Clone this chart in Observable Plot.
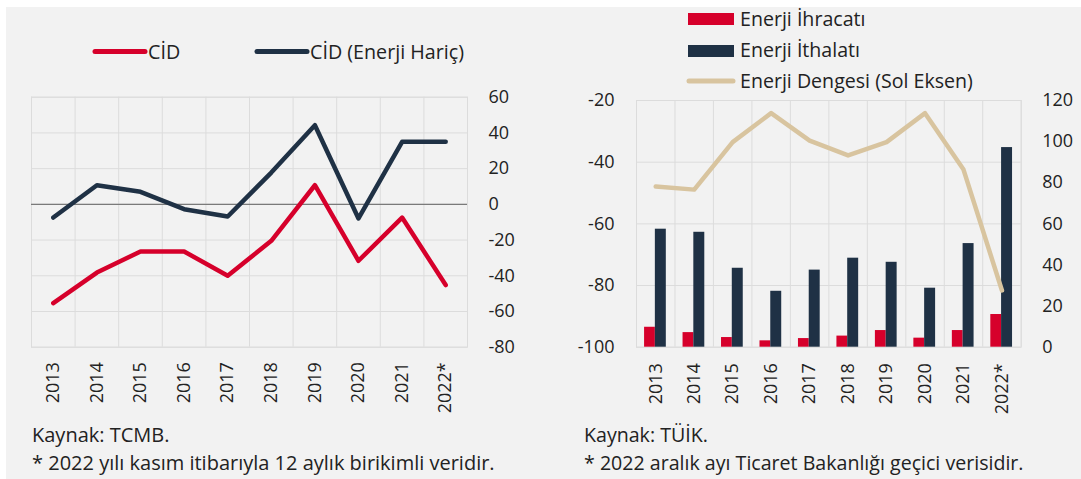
<!DOCTYPE html>
<html><head><meta charset="utf-8">
<script src="https://cdn.jsdelivr.net/npm/d3@7"></script>
<script src="https://cdn.jsdelivr.net/npm/@observablehq/plot@0.6"></script>
<style>
body{margin:0;background:#fff;width:1081px;height:479px;overflow:hidden;position:relative;font-family:"Open Sans",sans-serif;}
#bg{position:absolute;left:6px;top:7px;width:1075px;height:472px;background:#f2f2f2;}
.chart{position:absolute;top:0;}
#overlay{position:absolute;left:0;top:0;}
</style></head><body>
<div id="bg"></div>
<div id="left" class="chart" style="left:0px"></div>
<div id="right" class="chart" style="left:540px"></div>
<svg id="overlay" width="1081" height="479"></svg>
<script>
// ---- data ----
const years = ["2013","2014","2015","2016","2017","2018","2019","2020","2021","2022*"];
const cid = [-55.3,-38.2,-26.4,-26.4,-40.0,-20.4,10.7,-31.6,-7.4,-45.2];
const cidExEnergy = [-7.4,10.7,7.0,-2.7,-6.8,17.8,44.3,-7.9,35.0,35.0];
const energyExports = [9.7,7.1,4.7,3.1,4.2,5.4,8.1,4.4,8.1,15.9];
const energyImports = [57.4,55.9,38.4,27.2,37.5,43.3,41.3,28.7,50.4,97.1];
const energyBalance = [-47.9,-48.9,-33.5,-24.1,-33.0,-37.8,-33.5,-24.1,-42.4,-81.6];
const leftTicks = [-80,-60,-40,-20,0,20,40,60];
const balanceTicks = [-100,-80,-60,-40,-20];
const tradeTicks = [0,20,40,60,80,100,120];

const legendLeft = ["CİD","CİD (Enerji Hariç)"];
const legendRight = ["Enerji İhracatı","Enerji İthalatı","Enerji Dengesi (Sol Eksen)"];
const footLeft = ["Kaynak: TCMB.","* 2022 yılı kasım itibarıyla 12 aylık birikimli veridir."];
const footRight = ["Kaynak: TÜİK.","* 2022 aralık ayı Ticaret Bakanlığı geçici verisidir."];

// ---- styles ----
const red = "#d6002b", navy = "#1f3145", tan = "#d8c49f", grid = "#dcdcdc", ink = "#222";
const font = '"Open Sans", sans-serif';

const idx = d3.range(years.length);
const edges = d3.range(years.length + 1).map(i => i - 0.5);
const leftData = idx.map(i => ({i, cid: cid[i], ex: cidExEnergy[i]}));
const rightData = idx.map(i => ({i, exp: energyExports[i], imp: energyImports[i], bal: energyBalance[i]}));
// left-axis (balance, -100..-20) mapped onto right-axis (0..120)
const toR = v => (v + 100) * 1.5;
const fromR = r => r / 1.5 - 100;

const leftChart = Plot.plot({
  width: 540, height: 430,
  marginLeft: 31, marginRight: 73, marginTop: 96.7, marginBottom: 83.3,
  style: {background: "transparent", fontFamily: font, fontSize: "18px", color: ink},
  x: {type: "linear", domain: [-0.5, years.length - 0.5]},
  y: {domain: [-80, 60]},
  marks: [
    Plot.ruleY(leftTicks, {stroke: grid, strokeWidth: 1}),
    Plot.ruleX(edges, {stroke: grid, strokeWidth: 1}),
    Plot.frame({stroke: grid}),
    Plot.ruleY([0], {stroke: "#7a7a7a", strokeWidth: 1.2}),
    Plot.line(leftData, {x: "i", y: "ex", stroke: navy, strokeWidth: 4.5}),
    Plot.line(leftData, {x: "i", y: "cid", stroke: red, strokeWidth: 4.5}),
    Plot.axisY({anchor: "right", ticks: leftTicks, tickSize: 0, tickPadding: 21, tickFormat: d => String(d), label: null, fill: ink}),
    Plot.axisX({anchor: "bottom", ticks: idx, tickFormat: i => years[i], tickRotate: -90, tickSize: 0, tickPadding: 15, label: null, fill: ink})
  ]
});
document.getElementById("left").append(leftChart);

const rightChart = Plot.plot({
  width: 541, height: 430,
  marginLeft: 96, marginRight: 60.3, marginTop: 100, marginBottom: 83.3,
  style: {background: "transparent", fontFamily: font, fontSize: "18px", color: ink},
  x: {type: "linear", domain: [-0.5, years.length - 0.5]},
  y: {domain: [0, 120]},
  marks: [
    Plot.ruleY(balanceTicks.map(toR), {stroke: grid, strokeWidth: 1}),
    Plot.ruleX(edges, {stroke: grid, strokeWidth: 1}),
    Plot.frame({stroke: grid}),
    Plot.rectY(rightData, {x1: d => d.i - 0.29, x2: d => d.i - 0.01, y: "exp", fill: red}),
    Plot.rectY(rightData, {x1: d => d.i - 0.01, x2: d => d.i + 0.275, y: "imp", fill: navy}),
    Plot.line(rightData, {x: "i", y: d => toR(d.bal), stroke: tan, strokeWidth: 4.5}),
    Plot.axisY({anchor: "left", ticks: balanceTicks.map(toR), tickFormat: d => String(Math.round(fromR(d))), tickSize: 0, tickPadding: 22, label: null, fill: ink}),
    Plot.axisY({anchor: "right", ticks: tradeTicks, tickFormat: d => String(d), tickSize: 0, tickPadding: 21, label: null, fill: ink}),
    Plot.axisX({anchor: "bottom", ticks: idx, tickFormat: i => years[i], tickRotate: -90, tickSize: 0, tickPadding: 16, label: null, fill: ink})
  ]
});
document.getElementById("right").append(rightChart);

// ---- legends & notes ----
const ov = d3.select("#overlay").style("font-family", font).attr("fill", ink);
// left legend
const ll = [{c: red, x: 95, t: legendLeft[0]}, {c: navy, x: 257, t: legendLeft[1]}];
ll.forEach(d => {
  ov.append("line").attr("x1", d.x).attr("x2", d.x + 50).attr("y1", 51.5).attr("y2", 51.5)
    .attr("stroke", d.c).attr("stroke-width", 5).attr("stroke-linecap", "round");
  ov.append("text").attr("x", d.x + 53).attr("y", 58.5).attr("font-size", 19.7).text(d.t);
});
// right legend
ov.append("rect").attr("x", 688).attr("y", 13).attr("width", 46).attr("height", 12).attr("fill", red);
ov.append("text").attr("x", 740).attr("y", 26).attr("font-size", 19.6).text(legendRight[0]);
ov.append("rect").attr("x", 688).attr("y", 45).attr("width", 46).attr("height", 12).attr("fill", navy);
ov.append("text").attr("x", 740).attr("y", 56.5).attr("font-size", 19.6).text(legendRight[1]);
ov.append("line").attr("x1", 689).attr("x2", 733).attr("y1", 81).attr("y2", 81)
  .attr("stroke", tan).attr("stroke-width", 5).attr("stroke-linecap", "round");
ov.append("text").attr("x", 740).attr("y", 87.5).attr("font-size", 19.6).text(legendRight[2]);
// notes
footLeft.forEach((t, k) => ov.append("text").attr("x", 32).attr("y", 442 + 28 * k).attr("font-size", 20).text(t));
footRight.forEach((t, k) => ov.append("text").attr("x", 584).attr("y", 442 + 28 * k).attr("font-size", 19.6).text(t));
</script>
</body></html>
